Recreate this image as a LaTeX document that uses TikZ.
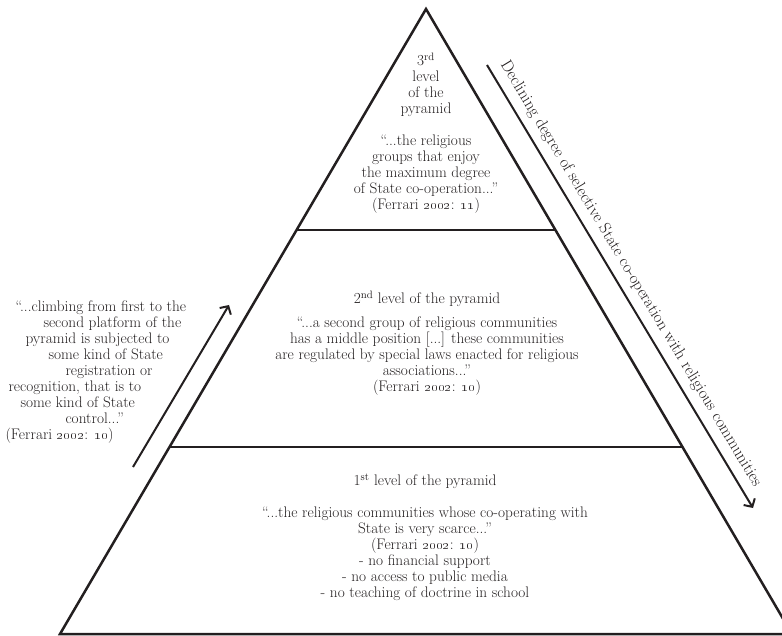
\documentclass[tikz,border=0pt]{standalone}
\usetikzlibrary{arrows.meta}
\definecolor{ink}{HTML}{231F20}
\newcommand{\yr}[1]{\oldstylenums{#1}}
\tikzset{
  level/.style={align=center, font=\fontsize{15.3}{16}\selectfont, text=ink},
  side/.style={ink, line width=2pt, -{Straight Barb[length=6pt,width=13pt]}},
}
\begin{document}
\begin{tikzpicture}[x=1pt,y=-1pt]
			\useasboundingbox (0,0) rectangle (782,636);
			
			\coordinate (apex) at (426,9);
			\coordinate (bl) at (60,634);
			\coordinate (br) at (792,634);
			\coordinate (L3l) at (297,230);
			\coordinate (L3r) at (555,230);
			\coordinate (L2l) at (170,447);
			\coordinate (L2r) at (682,447);
			
			\draw[ink, line width=2.5pt, line join=miter] (apex) -- (br) -- (bl) -- cycle;
			\draw[ink, line width=2.5pt] (L3l) -- (L3r);
			\draw[ink, line width=2.5pt] (L2l) -- (L2r);
			
			\node[level] (top) at (426,133) {3\textsuperscript{rd}\\ level\\ of the\\ pyramid\\[16pt]
				``...the religious\\ groups that enjoy\\ the maximum degree\\ of State co-operation...''\\ (Ferrari \yr{2002}: \yr{11})};
			\node[level] (mid) at (427,343) {2\textsuperscript{nd} level of the pyramid\\[8pt]
				``...a second group of religious communities\\ has a middle position [...] these communities\\ are regulated by special laws enacted for religious\\ associations...''\\ (Ferrari \yr{2002}: \yr{10})};
			\node[level] (low) at (425,537) {1\textsuperscript{st} level of the pyramid\\[16pt]
				``...the religious communities whose co-operating with\\ State is very scarce...''\\ (Ferrari \yr{2002}: \yr{10})\\ - no financial support\\ - no access to public media\\ - no teaching of doctrine in school};
			
			% climbing
			\node[level, align=left, anchor=north west] (climb) at (2,297) {\hspace*{10pt}``...climbing from first to the\\ \hspace*{38pt}second platform of the\\ \hspace*{20pt}pyramid is subjected to\\ \hspace*{43pt}some kind of State\\ \hspace*{60pt}registration or\\ \hspace*{3pt}recognition, that is to\\ \hspace*{15pt}some kind of State\\ \hspace*{60pt}control...''\\ (Ferrari \yr{2002}: \yr{10})};
			\coordinate (up0) at (133,467);
			\coordinate (up1) at (229,305);
			\draw[side] (up0) -- (up1);
			
			% declining
			\coordinate (dn0) at (487,65);
			\coordinate (dn1) at (753,508);
			\draw[side] (dn0) -- node[sloped, above=4pt, pos=0.49, level, font=\fontsize{16.5}{16}\selectfont] (decl) {Declining degree of selective State co-operation with religious communities} (dn1);
		\end{tikzpicture}
\end{document}
